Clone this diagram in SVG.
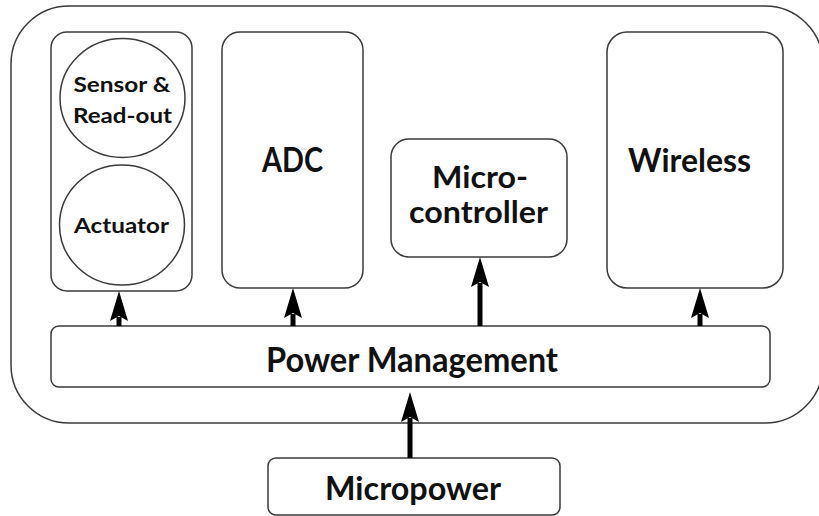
<svg xmlns="http://www.w3.org/2000/svg" width="819" height="516" viewBox="0 0 819 516">
<style>
.box{fill:#fff;stroke:#3a3a3a;stroke-width:1.5}
.lbl{font-family:Lato,"Open Sans","Liberation Sans",sans-serif;font-weight:bold;fill:#111;text-anchor:middle}
.arr{stroke:#000;stroke-width:5;fill:none;marker-end:url(#head)}
</style>
<defs>
<marker id="head" markerUnits="userSpaceOnUse" markerWidth="36" markerHeight="22" viewBox="0 -11 36 22" refX="4" refY="0" orient="auto" overflow="visible">
<path d="M0,-9 L30,0 L0,9 L5,0 Z" fill="#000"/>
</marker>
</defs>
<rect width="819" height="516" fill="#fff"/>
<g id="system">
<rect class="box" x="11" y="6" width="812" height="417" rx="58"/>
</g>
<g id="sensing">
<rect class="box" x="51" y="32" width="141" height="259" rx="16"/>
</g>
<g id="sensor">
<ellipse class="box" cx="122.5" cy="98" rx="62.5" ry="59.5"/>
<text class="lbl" x="122" y="92" font-size="21" textLength="97" lengthAdjust="spacingAndGlyphs">Sensor &amp;</text>
<text class="lbl" x="122.5" y="123" font-size="21" textLength="99" lengthAdjust="spacingAndGlyphs">Read-out</text>
</g>
<g id="actuator">
<ellipse class="box" cx="122" cy="225" rx="62.5" ry="60"/>
<text class="lbl" x="121.5" y="233" font-size="21" textLength="95" lengthAdjust="spacingAndGlyphs">Actuator</text>
</g>
<g id="adc">
<rect class="box" x="222" y="32" width="141" height="256" rx="18"/>
<text class="lbl" x="292.5" y="172" font-size="35" textLength="61" lengthAdjust="spacingAndGlyphs">ADC</text>
</g>
<g id="microcontroller">
<rect class="box" x="391" y="139" width="176" height="118" rx="18"/>
<text class="lbl" x="480" y="188" font-size="30" textLength="96" lengthAdjust="spacingAndGlyphs">Micro-</text>
<text class="lbl" x="478.5" y="223" font-size="30" textLength="139" lengthAdjust="spacingAndGlyphs">controller</text>
</g>
<g id="wireless">
<rect class="box" x="607" y="32" width="176" height="256" rx="20"/>
<text class="lbl" x="689.5" y="172" font-size="32" textLength="123" lengthAdjust="spacingAndGlyphs">Wireless</text>
</g>
<g id="power-management">
<rect class="box" x="51" y="326" width="719" height="61" rx="8"/>
<text class="lbl" x="412" y="372" font-size="35" textLength="292" lengthAdjust="spacingAndGlyphs">Power Management</text>
</g>
<g id="micropower">
<rect class="box" x="268" y="458" width="292" height="57" rx="8"/>
<text class="lbl" x="413" y="500" font-size="32" textLength="176" lengthAdjust="spacingAndGlyphs">Micropower</text>
</g>
<g id="connectors">
<line class="arr" x1="119" y1="326" x2="119" y2="317"/>
<line class="arr" x1="293" y1="326" x2="293" y2="314"/>
<line class="arr" x1="480" y1="326" x2="480" y2="283"/>
<line class="arr" x1="700" y1="326" x2="700" y2="314"/>
<line class="arr" x1="410" y1="458" x2="410" y2="418"/>
</g>
</svg>
